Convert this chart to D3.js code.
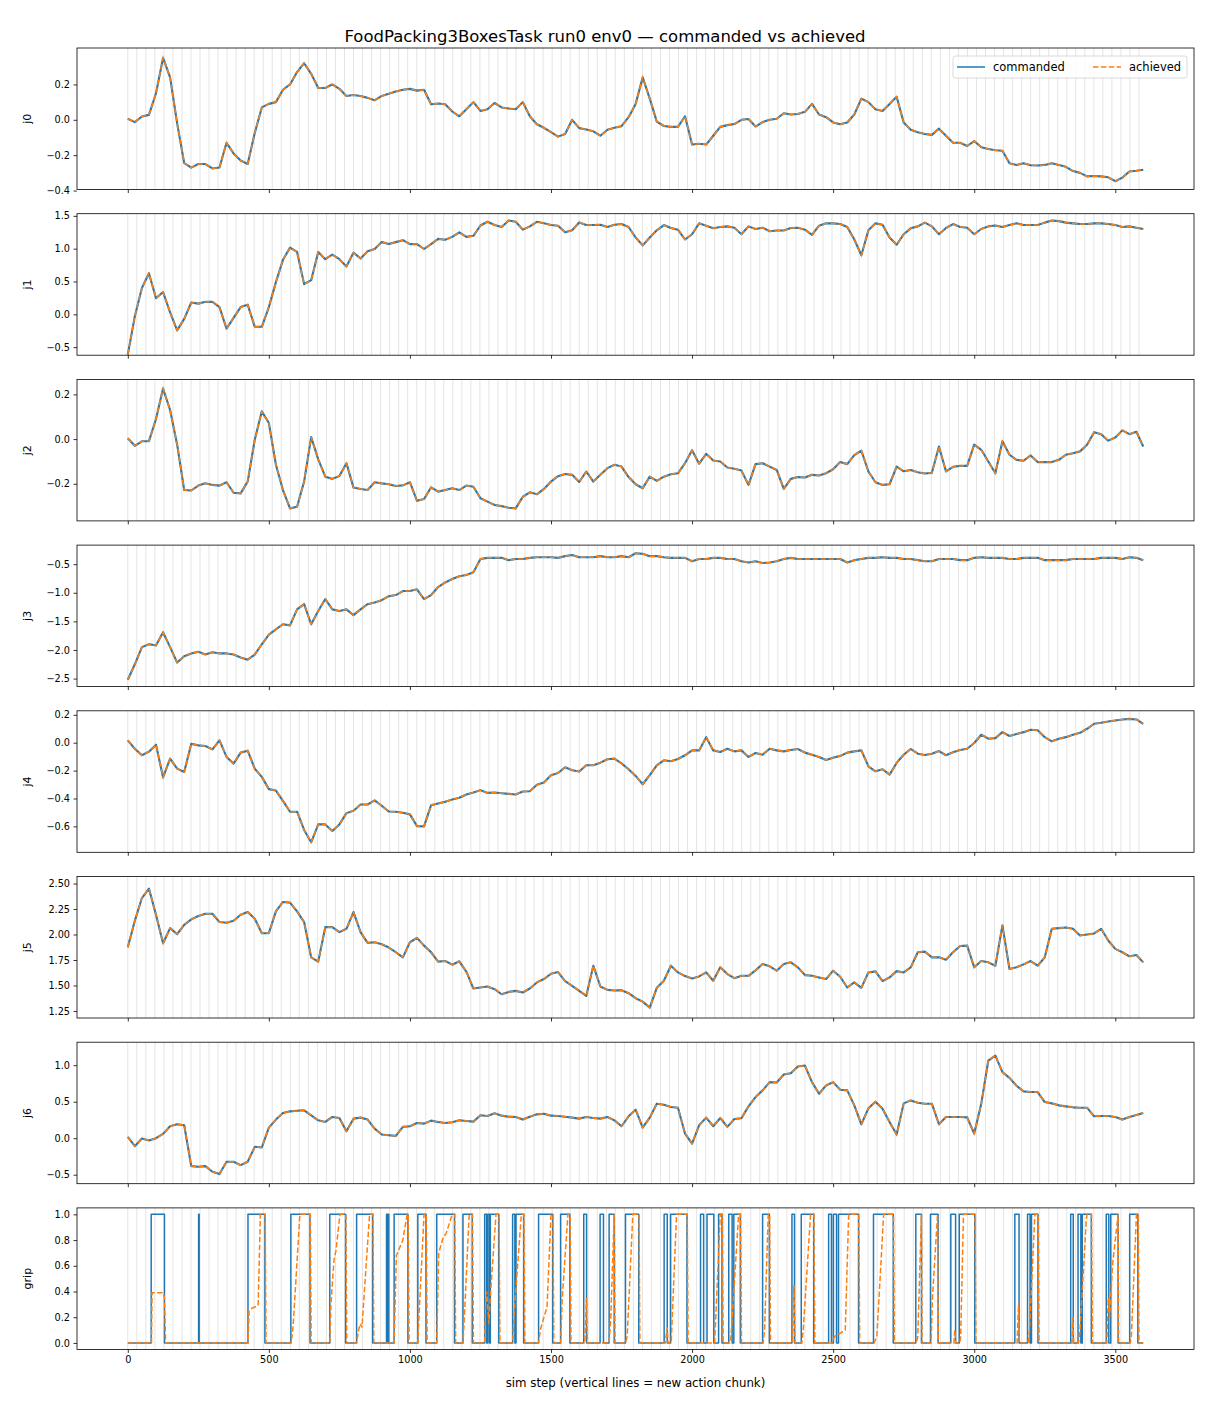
<!DOCTYPE html>
<html>
<head>
<meta charset="utf-8">
<script src="https://cdn.jsdelivr.net/npm/d3@7"></script>
<style>
  body { margin: 0; background: #fff; }
  svg { display: block; font-family: "DejaVu Sans", sans-serif; }
</style>
</head>
<body>
<svg width="1210" height="1408"></svg>
<script>
// DATA
// joint samples every 25 sim steps (last sample = step 3599)
const steps = d3.range(0, 3600, 25).concat([3599]);
const chunkStarts = d3.range(0, 3600, 32);
const xTicks = [0, 500, 1000, 1500, 2000, 2500, 3000, 3500];

const j0 = [0.006, -0.013, 0.019, 0.028, 0.15, 0.35, 0.24, -0.02, -0.245, -0.27,
  -0.25, -0.25, -0.275, -0.27, -0.13, -0.19, -0.23, -0.25, -0.075, 0.07,
  0.09, 0.10, 0.17, 0.20, 0.27, 0.32, 0.26, 0.18, 0.18, 0.20,
  0.175, 0.135, 0.14, 0.135, 0.124, 0.11, 0.135, 0.147, 0.16, 0.17,
  0.175, 0.165, 0.17, 0.088, 0.092, 0.088, 0.047, 0.02, 0.06, 0.10,
  0.05, 0.06, 0.095, 0.07, 0.064, 0.06, 0.10, 0.02, -0.025, -0.045,
  -0.07, -0.095, -0.08, 0.0, -0.047, -0.055, -0.065, -0.09, -0.056, -0.045,
  -0.036, 0.015, 0.09, 0.24, 0.12, -0.01, -0.035, -0.04, -0.04, 0.02,
  -0.14, -0.135, -0.14, -0.09, -0.04, -0.03, -0.024, 0.0, 0.005, -0.038,
  -0.013, 0.0, 0.006, 0.037, 0.03, 0.033, 0.045, 0.09, 0.03, 0.015,
  -0.015, -0.025, -0.015, 0.03, 0.12, 0.10, 0.06, 0.05, 0.09, 0.13,
  -0.015, -0.056, -0.07, -0.08, -0.085, -0.05, -0.09, -0.13, -0.13, -0.148,
  -0.12, -0.155, -0.165, -0.172, -0.175, -0.245, -0.256, -0.245, -0.257, -0.258,
  -0.255, -0.245, -0.255, -0.266, -0.29, -0.30, -0.32, -0.318, -0.32, -0.325,
  -0.347, -0.327, -0.292, -0.288, -0.282];

const j1 = [-0.614, -0.03, 0.40, 0.625, 0.245, 0.34, 0.03, -0.245, -0.07, 0.18,
  0.163, 0.19, 0.19, 0.11, -0.217, -0.054, 0.11, 0.147, -0.19, -0.19,
  0.11, 0.49, 0.83, 1.016, 0.95, 0.46, 0.52, 0.95, 0.84, 0.91,
  0.84, 0.73, 0.94, 0.85, 0.96, 0.995, 1.10, 1.07, 1.10, 1.13,
  1.07, 1.07, 0.995, 1.07, 1.15, 1.135, 1.18, 1.25, 1.18, 1.196,
  1.353, 1.41, 1.36, 1.33, 1.43, 1.41, 1.29, 1.34, 1.41, 1.386,
  1.36, 1.35, 1.25, 1.28, 1.40, 1.36, 1.36, 1.364, 1.33, 1.364,
  1.375, 1.33, 1.17, 1.05, 1.17, 1.28, 1.36, 1.315, 1.29, 1.14,
  1.22, 1.386, 1.35, 1.31, 1.33, 1.34, 1.32, 1.22, 1.34, 1.30,
  1.32, 1.266, 1.277, 1.277, 1.315, 1.32, 1.29, 1.21, 1.35, 1.386,
  1.386, 1.375, 1.33, 1.14, 0.90, 1.28, 1.386, 1.364, 1.17, 1.06,
  1.22, 1.31, 1.34, 1.397, 1.34, 1.22, 1.315, 1.375, 1.33, 1.32,
  1.22, 1.30, 1.34, 1.353, 1.33, 1.36, 1.386, 1.36, 1.36, 1.36,
  1.397, 1.43, 1.42, 1.397, 1.386, 1.375, 1.375, 1.386, 1.386, 1.375,
  1.36, 1.33, 1.34, 1.32, 1.30];

const j2 = [0.004, -0.03, -0.01, -0.009, 0.09, 0.226, 0.13, -0.025, -0.228, -0.23,
  -0.208, -0.198, -0.205, -0.208, -0.193, -0.24, -0.243, -0.19, -0.003, 0.124,
  0.072, -0.115, -0.228, -0.31, -0.303, -0.19, 0.009, -0.091, -0.168, -0.178,
  -0.165, -0.108, -0.217, -0.223, -0.228, -0.193, -0.198, -0.202, -0.21, -0.207,
  -0.193, -0.276, -0.268, -0.216, -0.235, -0.228, -0.22, -0.228, -0.208, -0.213,
  -0.265, -0.28, -0.295, -0.30, -0.307, -0.31, -0.258, -0.238, -0.247, -0.223,
  -0.19, -0.166, -0.156, -0.16, -0.192, -0.145, -0.19, -0.16, -0.13, -0.115,
  -0.123, -0.17, -0.202, -0.22, -0.168, -0.187, -0.168, -0.157, -0.153, -0.108,
  -0.05, -0.11, -0.066, -0.096, -0.10, -0.127, -0.133, -0.141, -0.205, -0.112,
  -0.108, -0.123, -0.138, -0.223, -0.178, -0.17, -0.172, -0.16, -0.163, -0.153,
  -0.135, -0.103, -0.112, -0.072, -0.052, -0.145, -0.193, -0.205, -0.202, -0.123,
  -0.144, -0.138, -0.148, -0.154, -0.151, -0.033, -0.145, -0.124, -0.12, -0.12,
  -0.025, -0.048, -0.10, -0.153, -0.01, -0.07, -0.093, -0.097, -0.073, -0.103,
  -0.103, -0.103, -0.093, -0.07, -0.063, -0.055, -0.025, 0.031, 0.022, -0.007,
  0.007, 0.039, 0.022, 0.033, -0.033];

const j3 = [-2.52, -2.25, -1.95, -1.9, -1.92, -1.69, -1.95, -2.22, -2.11, -2.06,
  -2.03, -2.08, -2.04, -2.06, -2.06, -2.08, -2.13, -2.17, -2.08, -1.9,
  -1.73, -1.64, -1.55, -1.57, -1.29, -1.2, -1.55, -1.32, -1.11, -1.29,
  -1.32, -1.29, -1.39, -1.29, -1.2, -1.17, -1.13, -1.06, -1.04, -0.97,
  -0.97, -0.94, -1.11, -1.04, -0.90, -0.82, -0.76, -0.71, -0.69, -0.64,
  -0.41, -0.39, -0.39, -0.39, -0.43, -0.41, -0.41, -0.39, -0.38, -0.38,
  -0.38, -0.39, -0.36, -0.34, -0.38, -0.38, -0.38, -0.36, -0.38, -0.38,
  -0.36, -0.38, -0.31, -0.32, -0.36, -0.36, -0.38, -0.39, -0.39, -0.39,
  -0.45, -0.41, -0.41, -0.39, -0.39, -0.41, -0.41, -0.45, -0.47, -0.45,
  -0.48, -0.47, -0.45, -0.41, -0.39, -0.41, -0.41, -0.41, -0.41, -0.41,
  -0.41, -0.41, -0.47, -0.43, -0.41, -0.39, -0.39, -0.38, -0.39, -0.39,
  -0.41, -0.41, -0.43, -0.45, -0.45, -0.41, -0.41, -0.41, -0.43, -0.43,
  -0.39, -0.38, -0.39, -0.39, -0.39, -0.41, -0.41, -0.39, -0.39, -0.39,
  -0.43, -0.43, -0.43, -0.43, -0.41, -0.41, -0.41, -0.41, -0.39, -0.39,
  -0.39, -0.41, -0.38, -0.39, -0.43];

const j4 = [0.017, -0.043, -0.09, -0.064, -0.014, -0.248, -0.114, -0.186, -0.21, -0.007,
  -0.019, -0.024, -0.048, 0.017, -0.102, -0.15, -0.071, -0.057, -0.186, -0.245,
  -0.333, -0.343, -0.417, -0.495, -0.495, -0.626, -0.714, -0.586, -0.586, -0.633,
  -0.586, -0.505, -0.488, -0.443, -0.443, -0.414, -0.452, -0.493, -0.495, -0.502,
  -0.514, -0.598, -0.60, -0.448, -0.436, -0.424, -0.407, -0.395, -0.371, -0.357,
  -0.34, -0.36, -0.357, -0.362, -0.367, -0.371, -0.35, -0.348, -0.302, -0.286,
  -0.233, -0.217, -0.176, -0.198, -0.207, -0.162, -0.162, -0.143, -0.119, -0.114,
  -0.148, -0.19, -0.238, -0.298, -0.233, -0.162, -0.126, -0.133, -0.117, -0.09,
  -0.055, -0.055, 0.04, -0.055, -0.067, -0.043, -0.062, -0.055, -0.102, -0.074,
  -0.086, -0.043, -0.055, -0.062, -0.052, -0.045, -0.071, -0.086, -0.102, -0.124,
  -0.107, -0.095, -0.071, -0.062, -0.055, -0.169, -0.205, -0.19, -0.229, -0.145,
  -0.086, -0.045, -0.079, -0.088, -0.079, -0.06, -0.09, -0.069, -0.052, -0.043,
  -0.002, 0.057, 0.029, 0.033, 0.076, 0.048, 0.062, 0.076, 0.093, 0.09,
  0.04, 0.01, 0.029, 0.04, 0.057, 0.071, 0.10, 0.136, 0.143, 0.152,
  0.16, 0.167, 0.171, 0.167, 0.136];

const j5 = [1.875, 2.135, 2.358, 2.45, 2.194, 1.914, 2.063, 2.003, 2.095, 2.148,
  2.181, 2.204, 2.204, 2.122, 2.115, 2.135, 2.194, 2.22, 2.155, 2.013,
  2.013, 2.227, 2.319, 2.313, 2.227, 2.122, 1.776, 1.734, 2.072, 2.072,
  2.023, 2.056, 2.22, 2.023, 1.918, 1.924, 1.905, 1.872, 1.826, 1.776,
  1.924, 1.967, 1.891, 1.826, 1.734, 1.74, 1.704, 1.737, 1.635, 1.47,
  1.48, 1.49, 1.464, 1.414, 1.437, 1.447, 1.431, 1.47, 1.53, 1.563,
  1.615, 1.632, 1.543, 1.497, 1.447, 1.398, 1.694, 1.49, 1.457, 1.451,
  1.454, 1.424, 1.375, 1.342, 1.283, 1.477, 1.546, 1.694, 1.628, 1.592,
  1.569, 1.589, 1.628, 1.546, 1.678, 1.612, 1.572, 1.595, 1.595, 1.648,
  1.71, 1.688, 1.645, 1.71, 1.727, 1.678, 1.602, 1.595, 1.579, 1.563,
  1.645, 1.586, 1.48, 1.53, 1.477, 1.628, 1.638, 1.543, 1.579, 1.641,
  1.628, 1.678, 1.826, 1.832, 1.776, 1.776, 1.753, 1.826, 1.888, 1.891,
  1.678, 1.74, 1.727, 1.694, 2.089, 1.661, 1.678, 1.707, 1.74, 1.694,
  1.776, 2.056, 2.063, 2.069, 2.056, 1.99, 2.0, 2.01, 2.056, 1.941,
  1.859, 1.826, 1.786, 1.799, 1.727];

const j6 = [0.018, -0.109, -0.005, -0.032, 0.0, 0.059, 0.164, 0.191, 0.177, -0.382,
  -0.391, -0.382, -0.459, -0.491, -0.323, -0.323, -0.368, -0.323, -0.118, -0.127,
  0.145, 0.255, 0.345, 0.368, 0.377, 0.382, 0.314, 0.245, 0.223, 0.291,
  0.277, 0.095, 0.268, 0.282, 0.255, 0.132, 0.05, 0.041, 0.032, 0.155,
  0.164, 0.209, 0.20, 0.241, 0.223, 0.209, 0.218, 0.245, 0.236, 0.227,
  0.314, 0.305, 0.341, 0.309, 0.295, 0.291, 0.255, 0.295, 0.327, 0.336,
  0.309, 0.305, 0.295, 0.282, 0.268, 0.291, 0.277, 0.268, 0.291, 0.245,
  0.164, 0.30, 0.391, 0.145, 0.282, 0.473, 0.459, 0.427, 0.418, 0.064,
  -0.073, 0.177, 0.282, 0.164, 0.277, 0.155, 0.264, 0.273, 0.436, 0.564,
  0.655, 0.768, 0.764, 0.873, 0.891, 0.982, 0.995, 0.768, 0.609, 0.723,
  0.768, 0.664, 0.655, 0.45, 0.191, 0.409, 0.50, 0.405, 0.223, 0.05,
  0.477, 0.518, 0.486, 0.473, 0.473, 0.191, 0.291, 0.291, 0.291, 0.286,
  0.064, 0.473, 1.064, 1.132, 0.905, 0.827, 0.718, 0.641, 0.632, 0.632,
  0.495, 0.477, 0.45, 0.436, 0.423, 0.418, 0.418, 0.30, 0.305, 0.305,
  0.291, 0.255, 0.291, 0.318, 0.345];

// gripper command: steps where it switches to 1 and back to 0
const gripOn = [83, 251, 426, 578, 716, 811, 917, 922, 944, 1028, 1095, 1188, 1265, 1276, 1285,
  1364, 1376, 1456, 1534, 1616, 1674, 1706, 1764, 1901, 1924, 2030, 2053, 2094, 2130, 2148,
  2250, 2354, 2387, 2484, 2501, 2519, 2643, 2793, 2845, 2917, 2947, 3144, 3189, 3203,
  3342, 3368, 3383, 3468, 3484, 3551];
const gripOff = [130, 253, 486, 646, 772, 868, 920, 925, 993, 1057, 1158, 1221, 1272, 1282, 1315,
  1372, 1403, 1506, 1567, 1626, 1686, 1724, 1811, 1912, 1982, 2041, 2077, 2106, 2142, 2171,
  2274, 2363, 2431, 2494, 2512, 2590, 2713, 2813, 2872, 2934, 3002, 3159, 3198, 3226,
  3351, 3378, 3415, 3477, 3510, 3580];

// gripper achieved: [step, value]
const gripAchieved = [[0, 0], [84, 0], [86, 0.39], [126, 0.39], [130, 0.35], [134, 0],
  [426, 0], [430, 0.25], [440, 0.27], [462, 0.29], [470, 1], [487, 1], [490, 0],
  [578, 0], [582, 0.05], [586, 0.13], [610, 1], [647, 1], [650, 0],
  [716, 0], [720, 0.3], [731, 0.65], [738, 0.72], [752, 1], [773, 1], [776, 0],
  [811, 0], [818, 0.1], [824, 0.15], [830, 0.12], [857, 1], [869, 1], [872, 0],
  [944, 0], [952, 0.68], [975, 0.8], [990, 1], [994, 1], [997, 0],
  [1028, 0], [1033, 0.25], [1050, 1], [1058, 1], [1061, 0],
  [1095, 0], [1102, 0.7], [1118, 0.82], [1128, 0.85], [1150, 1], [1159, 1], [1162, 0],
  [1188, 0], [1193, 0.2], [1210, 1], [1222, 1], [1225, 0],
  [1265, 0], [1268, 0.3], [1272, 0.4], [1280, 0.15], [1286, 0.4], [1305, 1], [1316, 1], [1319, 0],
  [1364, 0], [1370, 0.25], [1395, 1], [1404, 1], [1407, 0],
  [1456, 0], [1462, 0.1], [1475, 0.2], [1486, 0.28], [1500, 1], [1507, 1], [1510, 0],
  [1534, 0], [1540, 0.35], [1560, 1], [1568, 1], [1571, 0],
  [1620, 0], [1626, 0.35], [1629, 0],
  [1706, 0], [1712, 0.2], [1724, 1], [1727, 0],
  [1764, 0], [1770, 0.05], [1790, 1], [1812, 1], [1815, 0],
  [1905, 0], [1912, 0.12], [1915, 0], [1926, 0], [1945, 1], [1983, 1], [1986, 0],
  [2080, 0], [2100, 1], [2107, 1], [2110, 0],
  [2133, 0], [2138, 0.05], [2165, 1], [2172, 1], [2175, 0],
  [2252, 0], [2257, 0.1], [2270, 1], [2275, 1], [2278, 0],
  [2356, 0], [2361, 0.45], [2365, 0],
  [2389, 0], [2394, 0.1], [2420, 1], [2432, 1], [2435, 0],
  [2496, 0], [2505, 0.05], [2543, 0.1], [2555, 1], [2591, 1], [2594, 0],
  [2645, 0], [2655, 0.05], [2679, 1], [2714, 1], [2717, 0],
  [2795, 0], [2800, 0.05], [2813, 1], [2815, 0],
  [2847, 0], [2852, 0.35], [2870, 1], [2873, 0],
  [2928, 0], [2931, 0.1], [2935, 0],
  [2949, 0], [2952, 0.05], [2962, 1], [3003, 1], [3006, 0],
  [3152, 0], [3157, 0.3], [3160, 0],
  [3191, 0], [3196, 0.1], [3215, 1], [3227, 1], [3230, 0],
  [3346, 0], [3350, 0.2], [3353, 0],
  [3370, 0], [3375, 0.1], [3397, 0.95], [3400, 1], [3416, 1], [3419, 0],
  [3470, 0], [3475, 0.35], [3480, 0.2], [3490, 0.6], [3505, 0.9], [3510, 1], [3512, 0],
  [3553, 0], [3557, 0.05], [3575, 1], [3581, 1], [3584, 0], [3599, 0]];

// CONSTANTS
const svg = d3.select("svg");
const blue = "#1f77b4";
const orange = "#ff7f0e";
const panelTop = 48;
const panelStep = 165.7;
const panelH = 141.5;

const xScale = d3.scaleLinear().domain([-180, 3779]).range([77, 1194]);

// achieved tracks the command so closely that it reads the same at this size
const jointPoints = vals => steps.map((s, k) => [s, vals[k]]);

const gripCmd = [[0, 0]];
gripOn.forEach((on, k) => { gripCmd.push([on, 1], [gripOff[k], 0]); });
gripCmd.push([3599, 0]);

const panels = [
  { label: "j0", cmd: jointPoints(j0), ach: jointPoints(j0), domain: [-0.394, 0.406], ticks: [-0.4, -0.2, 0, 0.2], fmt: ".1f" },
  { label: "j1", cmd: jointPoints(j1), ach: jointPoints(j1), domain: [-0.623, 1.533], ticks: [-0.5, 0, 0.5, 1, 1.5], fmt: ".1f" },
  { label: "j2", cmd: jointPoints(j2), ach: jointPoints(j2), domain: [-0.366, 0.267], ticks: [-0.2, 0, 0.2], fmt: ".1f" },
  { label: "j3", cmd: jointPoints(j3), ach: jointPoints(j3), domain: [-2.64, -0.167], ticks: [-2.5, -2, -1.5, -1, -0.5], fmt: ".1f" },
  { label: "j4", cmd: jointPoints(j4), ach: jointPoints(j4), domain: [-0.786, 0.229], ticks: [-0.6, -0.4, -0.2, 0, 0.2], fmt: ".1f" },
  { label: "j5", cmd: jointPoints(j5), ach: jointPoints(j5), domain: [1.181, 2.569], ticks: [1.25, 1.5, 1.75, 2, 2.25, 2.5], fmt: ".2f" },
  { label: "j6", cmd: jointPoints(j6), ach: jointPoints(j6), domain: [-0.623, 1.315], ticks: [-0.5, 0, 0.5, 1], fmt: ".1f" },
  { label: "grip", cmd: gripCmd, ach: gripAchieved, domain: [-0.05, 1.05], ticks: [0, 0.2, 0.4, 0.6, 0.8, 1], fmt: ".1f", step: true }
];

const defs = svg.append("defs");

panels.forEach((p, i) => {
  const top = panelTop + i * panelStep;
  const last = i === panels.length - 1;
  const g = svg.append("g").attr("transform", `translate(0, ${top})`);
  const yScale = d3.scaleLinear().domain(p.domain).range([panelH, 0]);

  defs.append("clipPath").attr("id", `clip${i}`)
    .append("rect").attr("x", 77).attr("y", 0).attr("width", 1194 - 77).attr("height", panelH);

  const plot = g.append("g").attr("clip-path", `url(#clip${i})`);

  // new action chunk markers
  plot.append("g").selectAll("line").data(chunkStarts).join("line")
    .attr("x1", d => xScale(d)).attr("x2", d => xScale(d))
    .attr("y1", 0).attr("y2", panelH)
    .attr("stroke", "#000").attr("stroke-opacity", 0.14).attr("stroke-width", 0.8);

  const line = d3.line()
    .x(d => xScale(d[0]))
    .y(d => yScale(d[1]))
    .curve(p.step ? d3.curveStepAfter : d3.curveLinear);

  // joints: slightly wider blue so it shows around the dashed achieved line
  plot.append("path").datum(p.cmd).attr("d", line)
    .attr("fill", "none").attr("stroke", blue).attr("stroke-width", p.step ? 1.5 : 2.1)
    .attr("stroke-linejoin", "round");

  plot.append("path").datum(p.ach).attr("d", d3.line().x(d => xScale(d[0])).y(d => yScale(d[1])))
    .attr("fill", "none").attr("stroke", orange).attr("stroke-width", 1.5)
    .attr("stroke-dasharray", "5.5,2.4");

  // axes
  const yAxis = g.append("g").attr("transform", "translate(77, 0)")
    .call(d3.axisLeft(yScale).tickValues(p.ticks).tickFormat(d3.format(p.fmt)).tickSize(3.5).tickPadding(3.5));
  const xAxis = g.append("g").attr("transform", `translate(0, ${panelH})`)
    .call(d3.axisBottom(xScale).tickValues(xTicks).tickFormat(last ? d3.format("d") : "").tickSize(3.5).tickPadding(3.5));

  [yAxis, xAxis].forEach(a => {
    a.select(".domain").remove();
    a.selectAll(".tick line").attr("stroke", "#000").attr("stroke-width", 0.8);
    a.selectAll(".tick text").attr("fill", "#000").style("font-size", "9.7px").style("font-family", "DejaVu Sans");
  });

  g.append("rect").attr("x", 77).attr("y", 0).attr("width", 1194 - 77).attr("height", panelH)
    .attr("fill", "none").attr("stroke", "#000").attr("stroke-width", 0.8);

  g.append("text")
    .attr("transform", `translate(31, ${panelH / 2}) rotate(-90)`)
    .attr("text-anchor", "middle")
    .style("font-size", "11px")
    .text(p.label);
});

// title
svg.append("text").attr("x", 605).attr("y", 42).attr("text-anchor", "middle")
  .style("font-size", "16.5px").text("FoodPacking3BoxesTask run0 env0 — commanded vs achieved");

// x label
svg.append("text").attr("x", 635.5).attr("y", 1387).attr("text-anchor", "middle")
  .style("font-size", "11.8px").text("sim step (vertical lines = new action chunk)");

// legend
const legend = svg.append("g").attr("transform", "translate(953, 56)");
legend.append("rect").attr("width", 234).attr("height", 22).attr("rx", 2.5)
  .attr("fill", "#fff").attr("fill-opacity", 0.8).attr("stroke", "#d0d0d0").attr("stroke-width", 0.8);
const legendItems = [
  { name: "commanded", color: blue, dash: null, x: 4 },
  { name: "achieved", color: orange, dash: "5.5,2.4", x: 140 }
];
legendItems.forEach(it => {
  legend.append("line").attr("x1", it.x).attr("x2", it.x + 28).attr("y1", 11).attr("y2", 11)
    .attr("stroke", it.color).attr("stroke-width", 1.5).attr("stroke-dasharray", it.dash);
  legend.append("text").attr("x", it.x + 36).attr("y", 15).style("font-size", "11.5px").text(it.name);
});
</script>
</body>
</html>
